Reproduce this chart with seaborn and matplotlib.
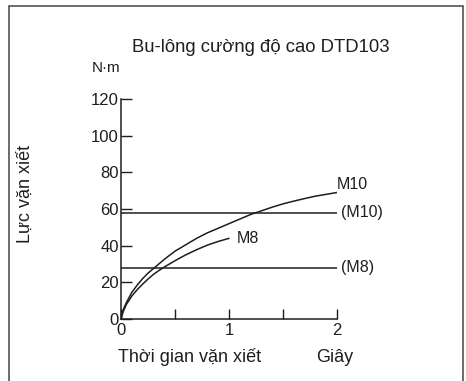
import numpy as np
import pandas as pd
import matplotlib
matplotlib.use("Agg")
import matplotlib.pyplot as plt
import seaborn as sns
from matplotlib.patches import Rectangle

# --- data ---
t_m10 = [0, 0.02, 0.05, 0.1, 0.15, 0.2, 0.25, 0.3, 0.4, 0.5, 0.6, 0.7, 0.8, 0.9,
         1.0, 1.1, 1.2, 1.3, 1.4, 1.5, 1.6, 1.7, 1.8, 1.9, 2.0]
torque_m10 = [0, 5, 9, 14.5, 18.5, 22, 25, 27.5, 32.5, 37, 40.5, 44, 47, 49.5,
              52, 54.5, 57, 59, 61, 62.8, 64.3, 65.7, 67, 68, 69]
t_m8 = [0, 0.02, 0.05, 0.1, 0.15, 0.2, 0.25, 0.3, 0.35, 0.4, 0.5, 0.6, 0.7, 0.8, 0.9, 1.0]
torque_m8 = [0, 4, 8, 12.5, 16, 19, 21.8, 24.3, 26.4, 28.3, 31.8, 35, 37.8, 40.3, 42.3, 44]
limit_names = ["(M10)", "(M8)"]
limit_values = [58, 28]
x_ticks = [0, 1, 2]
y_ticks = [0, 20, 40, 60, 80, 100, 120]

sns.set_style("white")
plt.rcParams['font.family'] = ['Liberation Sans', 'DejaVu Sans']
ink = "#1e1e1e"

df = pd.concat([
    pd.DataFrame({"t": t_m10, "torque": torque_m10, "bolt": "M10"}),
    pd.DataFrame({"t": t_m8, "torque": torque_m8, "bolt": "M8"}),
])

fig = plt.figure(figsize=(4.66, 3.81), dpi=100)
ax = fig.add_axes([121 / 466, 62 / 381, 216 / 466, 220 / 381])

sns.lineplot(data=df, x="t", y="torque", hue="bolt", palette=[ink, ink],
             legend=False, ax=ax, linewidth=1.1, sort=True)
ax.hlines(limit_values, 0, 2, color=ink, linewidth=1.1)

# curve and limit labels
ax.text(2.0, torque_m10[-1] + 0.5, "M10", fontsize=11.5, ha="left", va="bottom", color=ink)
ax.text(1.07, torque_m8[-1], "M8", fontsize=11.5, ha="left", va="center", color=ink)
for name, val in zip(limit_names, limit_values):
    ax.text(2.04, val, name, fontsize=11.5, ha="left", va="center", color=ink)

ax.set_xlim(0, 2)
ax.set_ylim(0, 120)
ax.set_xticks(x_ticks)
ax.set_xticks([0.5, 1.5], minor=True)
ax.set_yticks(y_ticks)
ax.tick_params(axis="x", which="both", direction="in", length=7, width=1, color=ink,
               labelsize=12, pad=3, bottom=True, labelcolor=ink)
ax.tick_params(axis="y", direction="in", length=8, width=1, color=ink,
               labelsize=12, pad=1.5, left=True, labelcolor=ink)
ax.set_xlabel("")
ax.set_ylabel("")
for side in ["top", "right"]:
    ax.spines[side].set_visible(False)
for side in ["left", "bottom"]:
    ax.spines[side].set_color(ink)
    ax.spines[side].set_linewidth(1.1)
ax.patch.set_alpha(0)

fig.text(261 / 466, 1 - 47 / 381, "Bu-lông cường độ cao DTD103", fontsize=13.3,
         ha="center", va="center", color=ink)
fig.text(92 / 466, 1 - 68 / 381, "N·m", fontsize=11, ha="left", va="center", color=ink)
fig.text(25 / 466, 1 - 194 / 381, "Lực vặn xiết", fontsize=13, rotation=90,
         ha="center", va="center", color=ink)
fig.text(118 / 466, 1 - 357 / 381, "Thời gian vặn xiết", fontsize=13,
         ha="left", va="center", color=ink)
fig.text(316 / 466, 1 - 357 / 381, "Giây", fontsize=13, ha="left", va="center", color=ink)

# outer frame, open at the bottom like the reference
fig.patches.append(Rectangle((9 / 466, -0.05), 454 / 466, 1.05 - 6 / 381,
                             transform=fig.transFigure, fill=False,
                             edgecolor="#444444", linewidth=1.1))

fig.savefig("out.png", dpi=100)
